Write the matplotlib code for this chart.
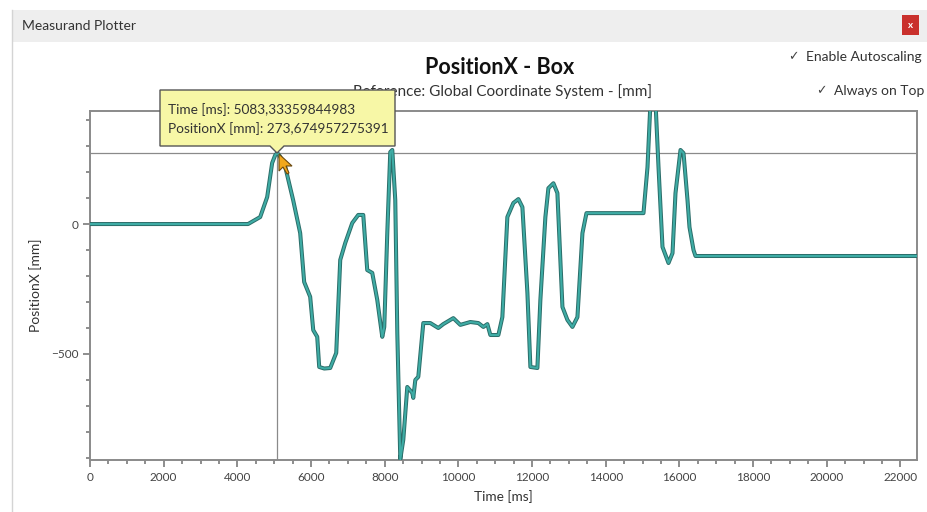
import matplotlib
matplotlib.use("Agg")
import matplotlib.pyplot as plt
import matplotlib.patheffects as pe
from matplotlib.patches import Rectangle, Polygon
from matplotlib.ticker import MultipleLocator

W, H = 927, 512

# curve: time [ms] / PositionX [mm]
time_ms = [0, 4290, 4620, 4810, 4945, 5027, 5083, 5150, 5300, 5515,
           5706, 5814, 5977, 6060, 6168, 6222, 6360, 6521, 6684, 6793,
           6929, 7119, 7282, 7418, 7526, 7662, 7798, 7934, 7988, 8070,
           8151, 8206, 8287, 8342, 8423, 8505, 8613, 8749, 8776, 8831,
           8912, 9048, 9238, 9455, 9591, 9863, 10053, 10325, 10543, 10679,
           10787, 10868, 11086, 11194, 11330, 11493, 11629, 11738, 11874, 11955,
           12145, 12226, 12362, 12444, 12580, 12688, 12825, 12960, 13096, 13232,
           13368, 13477, 15025, 15134, 15215, 15351, 15433, 15541, 15704, 15813,
           15894, 16030, 16112, 16220, 16274, 16383, 16437, 22450]
pos_x = [0, 0, 27, 104, 235, 265, 274, 262, 220, 92,
         -35, -223, -280, -408, -434, -550, -556, -554, -496, -138,
         -73, 4, 35, 35, -177, -188, -292, -434, -396, -35,
         277, 285, 92, -419, -905, -830, -627, -650, -669, -600,
         -588, -381, -381, -400, -385, -362, -388, -377, -381, -396,
         -385, -427, -427, -358, 27, 81, 96, 65, -265, -550,
         -554, -292, 27, 138, 157, 119, -319, -369, -396, -358,
         -35, 42, 42, 219, 470, 470, 219, -88, -150, -112,
         119, 285, 273, 92, -12, -100, -123, -123]

cursor_t = 5083.33359844983
cursor_v = 273.674957275391
tooltip_lines = ["Time [ms]: 5083,33359844983",
                 "PositionX [mm]: 273,674957275391"]

plt.rcParams["font.family"] = ["Lato", "DejaVu Sans"]


def px(x, y):
    # screenshot pixel (top-left origin) -> figure fraction
    return x / W, 1 - y / H


fig = plt.figure(figsize=(W / 100, H / 100), dpi=100)
fig.patch.set_facecolor("white")

# --- window chrome ---
fig.patches.append(Rectangle(px(12, 42), (W - 12) / W, 32 / H, transform=fig.transFigure,
                             facecolor="#eeeeee", edgecolor="none", zorder=0))
fig.add_artist(plt.Line2D([12 / W, 12 / W], [0, 1 - 10 / H], transform=fig.transFigure,
                          color="#d4d4d4", lw=1))
fig.text(*px(22, 26), "Measurand Plotter", fontsize=10, color="#333333", va="center")
fig.patches.append(Rectangle(px(902, 35), 17 / W, 20 / H, transform=fig.transFigure,
                             facecolor="#c9302c", edgecolor="none"))
fig.text(*px(910.5, 25), "x", fontsize=7, color="white", weight="bold", ha="center", va="center")
fig.text(*px(788, 57), "\u2713", fontsize=9, color="#444444", va="center", family=["DejaVu Sans"])
fig.text(*px(806, 57), "Enable Autoscaling", fontsize=10, color="#333333", va="center")
fig.text(*px(816, 91), "\u2713", fontsize=9, color="#444444", va="center", family=["DejaVu Sans"])
fig.text(*px(834, 91), "Always on Top", fontsize=10, color="#333333", va="center")

fig.text(*px(500, 68), "PositionX - Box", fontsize=15.5, weight="bold", ha="center", va="center",
         color="#111111")
fig.text(*px(502, 92), "Reference: Global Coordinate System - [mm]", fontsize=11,
         ha="center", va="center", color="#333333")

# --- plot ---
ax = fig.add_axes([90 / W, 1 - 460 / H, (917 - 90) / W, (460 - 111) / H])
ax.plot(time_ms, pos_x, color="#3eaca5", lw=1.5, zorder=3,
        path_effects=[pe.Stroke(linewidth=2.9, foreground="#2b6d69"), pe.Normal()])
ax.axvline(cursor_t, color="#8a8a8a", lw=0.9, zorder=2)
ax.axhline(cursor_v, color="#8a8a8a", lw=0.9, zorder=2)

ax.set_xlim(0, 22450)
ax.set_ylim(-908, 435)
ax.xaxis.set_major_locator(MultipleLocator(2000))
ax.xaxis.set_minor_locator(MultipleLocator(500))
ax.yaxis.set_major_locator(MultipleLocator(500))
ax.yaxis.set_minor_locator(MultipleLocator(100))
ax.tick_params(which="both", direction="out", color="#7a7a7a", labelsize=8.5, labelcolor="#444444")
ax.tick_params(which="major", length=5, width=1.2)
ax.tick_params(which="minor", length=3, width=1.2)
for sp in ax.spines.values():
    sp.set_color("#8a8a8a")
    sp.set_linewidth(1.4)
ax.set_xlabel("Time [ms]", fontsize=9.8, color="#333333", labelpad=5)
ax.set_ylabel("PositionX [mm]", fontsize=10, color="#333333", labelpad=6)

# --- tooltip ---
fig.patches.append(Polygon([px(160, 90), px(395, 90), px(395, 146), px(284, 146),
                            px(277, 153), px(270, 146), px(160, 146)],
                           closed=True, transform=fig.transFigure, facecolor="#f7f7a6",
                           edgecolor="#555555", lw=1, zorder=5))
fig.text(*px(168, 110), tooltip_lines[0], fontsize=9.8, color="#333333", va="center", zorder=6)
fig.text(*px(168, 129), tooltip_lines[1], fontsize=9.8, color="#333333", va="center", zorder=6)

# mouse pointer
fig.patches.append(Polygon([px(279, 154), px(279, 171), px(283, 167), px(287, 174),
                            px(289, 173), px(286, 166), px(292, 166)],
                           closed=True, transform=fig.transFigure, facecolor="#f2a81d",
                           edgecolor="#6b4a10", lw=0.8, zorder=7))

fig.savefig("out.png", dpi=100)
